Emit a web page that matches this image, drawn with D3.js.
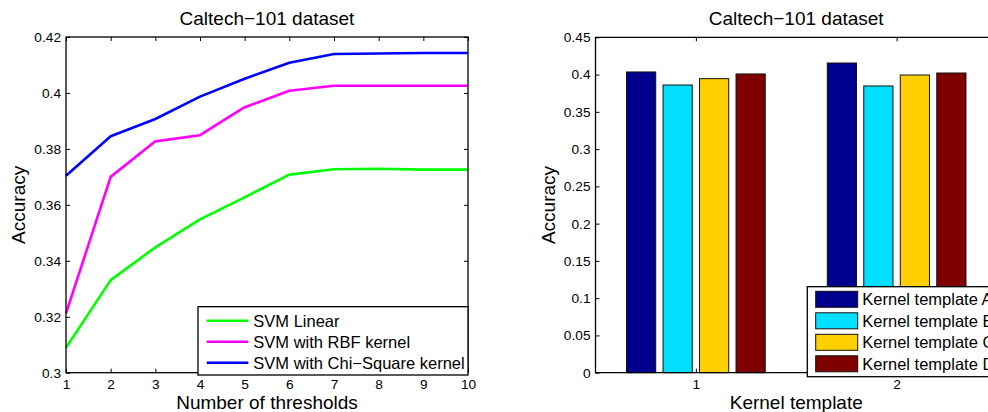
<!DOCTYPE html>
<html>
<head>
<meta charset="utf-8">
<script src="https://cdn.jsdelivr.net/npm/d3@7"></script>
<style>
  body { margin: 0; background: #fff; }
  svg { display: block; font-family: "Liberation Sans", Arial, sans-serif; }
  .tick line { stroke: #000; }
  .domain { display: none; }
</style>
</head>
<body>
<div id="main"></div>
<script>
// left chart data
var thresholds = [1, 2, 3, 4, 5, 6, 7, 8, 9, 10];
var svmLinear = [0.3089, 0.3331, 0.3448, 0.3548, 0.3627, 0.3708, 0.3727, 0.3729, 0.3726, 0.3726];
var svmRbf    = [0.3212, 0.3700, 0.3827, 0.3849, 0.3949, 0.4008, 0.4026, 0.4026, 0.4026, 0.4026];
var svmChi    = [0.3704, 0.3845, 0.3907, 0.3987, 0.4051, 0.4108, 0.4139, 0.4141, 0.4143, 0.4143];
var lineNames = ["SVM Linear", "SVM with RBF kernel", "SVM with Chi\u2212Square kernel"];
var lineColors = ["#00ff00", "#ff00ff", "#0000ff"];
var leftYTicks = [0.3, 0.32, 0.34, 0.36, 0.38, 0.4, 0.42];

// right chart data
var kernelGroups = [1, 2];
var templateA = [0.4035, 0.4155];
var templateB = [0.3860, 0.3847];
var templateC = [0.3945, 0.3994];
var templateD = [0.4008, 0.4021];
var barNames = ["Kernel template A", "Kernel template B", "Kernel template C", "Kernel template D"];
var barColors = ["#00008f", "#00dfff", "#ffcf00", "#800000"];
var rightYTicks = [0, 0.05, 0.1, 0.15, 0.2, 0.25, 0.3, 0.35, 0.4, 0.45];

var fmt = function(d) { return String(+d.toFixed(3)); };

var svg = d3.select("#main").append("svg")
  .attr("width", 988)
  .attr("height", 412);

// ---------- left: line chart ----------
var L = { left: 66, right: 468, top: 37, bottom: 372.7 };
var xL = d3.scaleLinear().domain([1, 10]).range([L.left, L.right]);
var yL = d3.scaleLinear().domain([0.3, 0.42]).range([L.bottom, L.top]);

var gL = svg.append("g");

gL.append("g")
  .attr("transform", "translate(0," + L.bottom + ")")
  .call(d3.axisBottom(xL).tickValues(thresholds).tickSize(-4).tickPadding(7).tickFormat(fmt))
  .call(g => g.selectAll("text").attr("font-size", 13.7).attr("fill", "#000"));
gL.append("g")
  .attr("transform", "translate(0," + L.top + ")")
  .call(d3.axisTop(xL).tickValues(thresholds).tickSize(-4).tickFormat(""));
gL.append("g")
  .attr("transform", "translate(" + L.left + ",0)")
  .call(d3.axisLeft(yL).tickValues(leftYTicks).tickSize(-4).tickPadding(5).tickFormat(fmt))
  .call(g => g.selectAll("text").attr("font-size", 13.7).attr("fill", "#000"));
gL.append("g")
  .attr("transform", "translate(" + L.right + ",0)")
  .call(d3.axisRight(yL).tickValues(leftYTicks).tickSize(-4).tickFormat(""));

var line = d3.line()
  .x((d, i) => xL(thresholds[i]))
  .y(d => yL(d));

[svmLinear, svmRbf, svmChi].forEach(function(s, i) {
  gL.append("path")
    .attr("d", line(s))
    .attr("fill", "none")
    .attr("stroke", lineColors[i])
    .attr("stroke-width", 2.6)
    .attr("stroke-linejoin", "round");
});

gL.append("rect")
  .attr("x", L.left).attr("y", L.top)
  .attr("width", L.right - L.left).attr("height", L.bottom - L.top)
  .attr("fill", "none").attr("stroke", "#000").attr("stroke-width", 1.3);

// legend left
var legL = gL.append("g").attr("transform", "translate(198,306.7)");
legL.append("rect")
  .attr("width", L.right - 198).attr("height", 68.3)
  .attr("fill", "#fff").attr("stroke", "#000").attr("stroke-width", 1.3);
lineNames.forEach(function(n, i) {
  var yy = 14 + i * 21;
  legL.append("line")
    .attr("x1", 8.7).attr("x2", 50.3).attr("y1", yy).attr("y2", yy)
    .attr("stroke", lineColors[i]).attr("stroke-width", 2.6);
  legL.append("text")
    .attr("x", 55.3).attr("y", yy).attr("dy", "0.36em")
    .attr("font-size", 16.5).text(n);
});

gL.append("text")
  .attr("x", (L.left + L.right) / 2).attr("y", 25)
  .attr("text-anchor", "middle").attr("font-size", 19)
  .text("Caltech\u2212101 dataset");
gL.append("text")
  .attr("x", (L.left + L.right) / 2).attr("y", 409)
  .attr("text-anchor", "middle").attr("font-size", 19)
  .text("Number of thresholds");
gL.append("text")
  .attr("transform", "translate(25," + ((L.top + L.bottom) / 2) + ") rotate(-90)")
  .attr("text-anchor", "middle").attr("font-size", 19)
  .text("Accuracy");

// ---------- right: grouped bars ----------
var R = { left: 595.5, right: 997, top: 37.3, bottom: 372.7 };
var xR = d3.scaleLinear().domain([0.5, 2.5]).range([R.left, R.right]);
var yR = d3.scaleLinear().domain([0, 0.45]).range([R.bottom, R.top]);

var gR = svg.append("g");

gR.append("g")
  .attr("transform", "translate(0," + R.bottom + ")")
  .call(d3.axisBottom(xR).tickValues(kernelGroups).tickSize(-4).tickPadding(7).tickFormat(fmt))
  .call(g => g.selectAll("text").attr("font-size", 13.7).attr("fill", "#000"));
gR.append("g")
  .attr("transform", "translate(0," + R.top + ")")
  .call(d3.axisTop(xR).tickValues(kernelGroups).tickSize(-4).tickFormat(""));
gR.append("g")
  .attr("transform", "translate(" + R.left + ",0)")
  .call(d3.axisLeft(yR).tickValues(rightYTicks).tickSize(-4).tickPadding(5).tickFormat(fmt))
  .call(g => g.selectAll("text").attr("font-size", 13.7).attr("fill", "#000"));

var series = [templateA, templateB, templateC, templateD];
var groupW = Math.min(0.8, series.length / (series.length + 1.5));
var step = groupW / series.length;
var barW = step * 0.8;

series.forEach(function(s, j) {
  gR.selectAll(null)
    .data(s)
    .enter().append("rect")
    .attr("x", (d, i) => xR(kernelGroups[i] - groupW / 2 + step * (j + 0.5) - barW / 2))
    .attr("width", xR(barW) - xR(0))
    .attr("y", d => yR(d))
    .attr("height", d => yR(0) - yR(d))
    .attr("fill", barColors[j])
    .attr("stroke", "#111")
    .attr("stroke-width", 1);
});

gR.append("path")
  .attr("d", "M" + R.right + "," + R.top + "H" + R.left + "V" + R.bottom + "H" + R.right)
  .attr("fill", "none").attr("stroke", "#000").attr("stroke-width", 1.3);

// legend right
var legR = gR.append("g").attr("transform", "translate(807.3,286.7)");
legR.append("rect")
  .attr("width", 220).attr("height", 90)
  .attr("fill", "#fff").attr("stroke", "#000").attr("stroke-width", 1.3);
barNames.forEach(function(n, i) {
  var yy = 12.6 + i * 21.5;
  legR.append("rect")
    .attr("x", 8.4).attr("y", yy - 8).attr("width", 42).attr("height", 16)
    .attr("fill", barColors[i]).attr("stroke", "#111").attr("stroke-width", 1);
  legR.append("text")
    .attr("x", 55).attr("y", yy).attr("dy", "0.36em")
    .attr("font-size", 16.5).text(n);
});

gR.append("text")
  .attr("x", (R.left + R.right) / 2).attr("y", 25)
  .attr("text-anchor", "middle").attr("font-size", 19)
  .text("Caltech\u2212101 dataset");
gR.append("text")
  .attr("x", (R.left + R.right) / 2).attr("y", 409)
  .attr("text-anchor", "middle").attr("font-size", 19)
  .text("Kernel template");
gR.append("text")
  .attr("transform", "translate(555," + ((R.top + R.bottom) / 2) + ") rotate(-90)")
  .attr("text-anchor", "middle").attr("font-size", 19)
  .text("Accuracy");
</script>
</body>
</html>
